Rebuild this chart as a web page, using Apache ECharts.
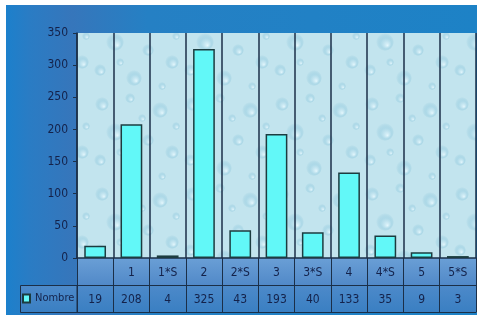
<!DOCTYPE html>
<html>
<head>
<meta charset="utf-8">
<script src="https://cdn.jsdelivr.net/npm/echarts@6/dist/echarts.min.js"></script>
<style>
  html, body { margin: 0; padding: 0; background: #ffffff; }
  #chart { width: 477px; height: 320px; }
</style>
</head>
<body>
<div id="chart"></div>
<script>
// Categories along the x axis and the count for each of them
const categories = ['', '1', '1*S', '2', '2*S', '3', '3*S', '4', '4*S', '5', '5*S'];
const nombre = [19, 208, 4, 325, 43, 193, 40, 133, 35, 9, 3];
const seriesName = 'Nombre';
const yMin = 0;
const yMax = 350;
const yStep = 50;

const FONT = "'Liberation Sans Narrow', 'DejaVu Sans Condensed', 'Liberation Sans', sans-serif";
const INK = '#14224a';
const RULE = '#1b2f48';

// Plot rectangle in pixels
const PL = 77, PR = 476, PT = 33, PB = 258, ROW = 27;

// Water-drop tile used to fill the plot face
function dropTile() {
  const c = document.createElement('canvas');
  c.width = 90; c.height = 90;
  const g = c.getContext('2d');
  g.fillStyle = '#c2e4ee';
  g.fillRect(0, 0, 90, 90);
  const drops = [
    [12, 14, 7], [40, 8, 5], [70, 20, 8], [25, 42, 9], [58, 50, 6],
    [82, 62, 7], [10, 70, 6], [44, 78, 8], [72, 86, 4], [30, 62, 4],
    [86, 36, 4], [52, 28, 4]
  ];
  drops.forEach(([x, y, r]) => {
    for (let dx = -90; dx <= 90; dx += 90) {
      for (let dy = -90; dy <= 90; dy += 90) {
        const cx = x + dx, cy = y + dy;
        const rg = g.createRadialGradient(cx + r * 0.3, cy + r * 0.4, 0, cx, cy, r);
        rg.addColorStop(0, 'rgba(235,250,255,0.85)');
        rg.addColorStop(0.6, 'rgba(160,210,228,0.6)');
        rg.addColorStop(1, 'rgba(120,185,210,0.0)');
        g.fillStyle = rg;
        g.beginPath();
        g.arc(cx, cy, r, 0, Math.PI * 2);
        g.fill();
      }
    }
  });
  return c;
}

const chart = echarts.init(document.getElementById('chart'), null, { renderer: 'canvas' });

const option = {
  animation: false,
  backgroundColor: '#ffffff',
  textStyle: { fontFamily: FONT },
  graphic: [
    // blue panel behind everything
    {
      type: 'rect', z: -10, silent: true,
      shape: { x: 6, y: 5, width: 471, height: 310 },
      style: {
        fill: new echarts.graphic.LinearGradient(0, 0, 1, 0, [
          { offset: 0, color: '#1c80cc' },
          { offset: 0.05, color: '#2a7cc4' },
          { offset: 0.14, color: '#3676bb' },
          { offset: 0.3, color: '#2580c4' },
          { offset: 1, color: '#1d82c6' }
        ])
      }
    },
    // textured plot face
    {
      type: 'rect', z: -9, silent: true,
      shape: { x: PL, y: PT, width: PR - PL, height: PB - PT },
      style: { fill: { image: dropTile(), repeat: 'repeat' } }
    },
    // data table: category row
    {
      type: 'rect', z: -9, silent: true,
      shape: { x: PL, y: PB, width: PR - PL, height: ROW },
      style: {
        fill: new echarts.graphic.LinearGradient(0, 0, 0, 1, [
          { offset: 0, color: '#6a9fd6' },
          { offset: 1, color: '#5189c8' }
        ])
      }
    },
    // data table: value row, including the legend cell
    {
      type: 'rect', z: -9, silent: true,
      shape: { x: 20, y: PB + ROW, width: PR - 20, height: ROW },
      style: {
        fill: new echarts.graphic.LinearGradient(0, 0, 0, 1, [
          { offset: 0, color: '#4d8aca' },
          { offset: 1, color: '#3a7fc2' }
        ])
      }
    },
    // legend cell border
    {
      type: 'rect', z: 10, silent: true,
      shape: { x: 20.5, y: PB + ROW + 0.5, width: PL - 20.5, height: ROW },
      style: { fill: 'none', stroke: RULE, lineWidth: 1 }
    }
  ],
  legend: {
    show: true,
    left: 22,
    top: PB + ROW + 8,
    padding: 0,
    icon: 'rect',
    itemWidth: 7,
    itemHeight: 8,
    textStyle: { fontFamily: FONT, fontSize: 11, color: INK },
    data: [seriesName]
  },
  grid: {
    left: PL, right: 477 - PR, top: PT, bottom: 320 - PB,
    containLabel: false
  },
  xAxis: [
    {
      type: 'category',
      data: categories,
      position: 'bottom',
      axisLine: { show: true, lineStyle: { color: RULE, width: 1.5 } },
      axisTick: { show: true, interval: 0, length: ROW, lineStyle: { color: RULE, width: 1 } },
      axisLabel: { interval: 0, margin: 9, fontSize: 12, color: INK, fontFamily: FONT },
      splitLine: { show: true, interval: 0, lineStyle: { color: RULE, width: 1.5 } }
    },
    {
      type: 'category',
      data: nombre.map(String),
      position: 'bottom',
      offset: ROW,
      axisLine: { show: true, lineStyle: { color: RULE, width: 1 } },
      axisTick: { show: true, interval: 0, length: ROW, lineStyle: { color: RULE, width: 1 } },
      axisLabel: { interval: 0, margin: 9, fontSize: 12, color: INK, fontFamily: FONT },
      splitLine: { show: false }
    },
    {
      type: 'category',
      data: categories,
      position: 'bottom',
      offset: ROW * 2,
      axisLine: { show: true, lineStyle: { color: RULE, width: 1 } },
      axisTick: { show: false },
      axisLabel: { show: false },
      splitLine: { show: false }
    }
  ],
  yAxis: {
    type: 'value',
    min: yMin,
    max: yMax,
    interval: yStep,
    axisLine: { show: true, lineStyle: { color: RULE, width: 1.5 } },
    axisTick: { show: true, length: 4, lineStyle: { color: RULE, width: 1 } },
    axisLabel: { margin: 9, fontSize: 12, color: INK, fontFamily: FONT },
    splitLine: { show: false }
  },
  series: [
    {
      name: seriesName,
      type: 'bar',
      xAxisIndex: 0,
      data: nombre,
      barCategoryGap: '40%',
      itemStyle: { color: '#62f8f8', borderColor: '#1c3c40', borderWidth: 1.5 }
    }
  ]
};

chart.setOption(option);
</script>
</body>
</html>
